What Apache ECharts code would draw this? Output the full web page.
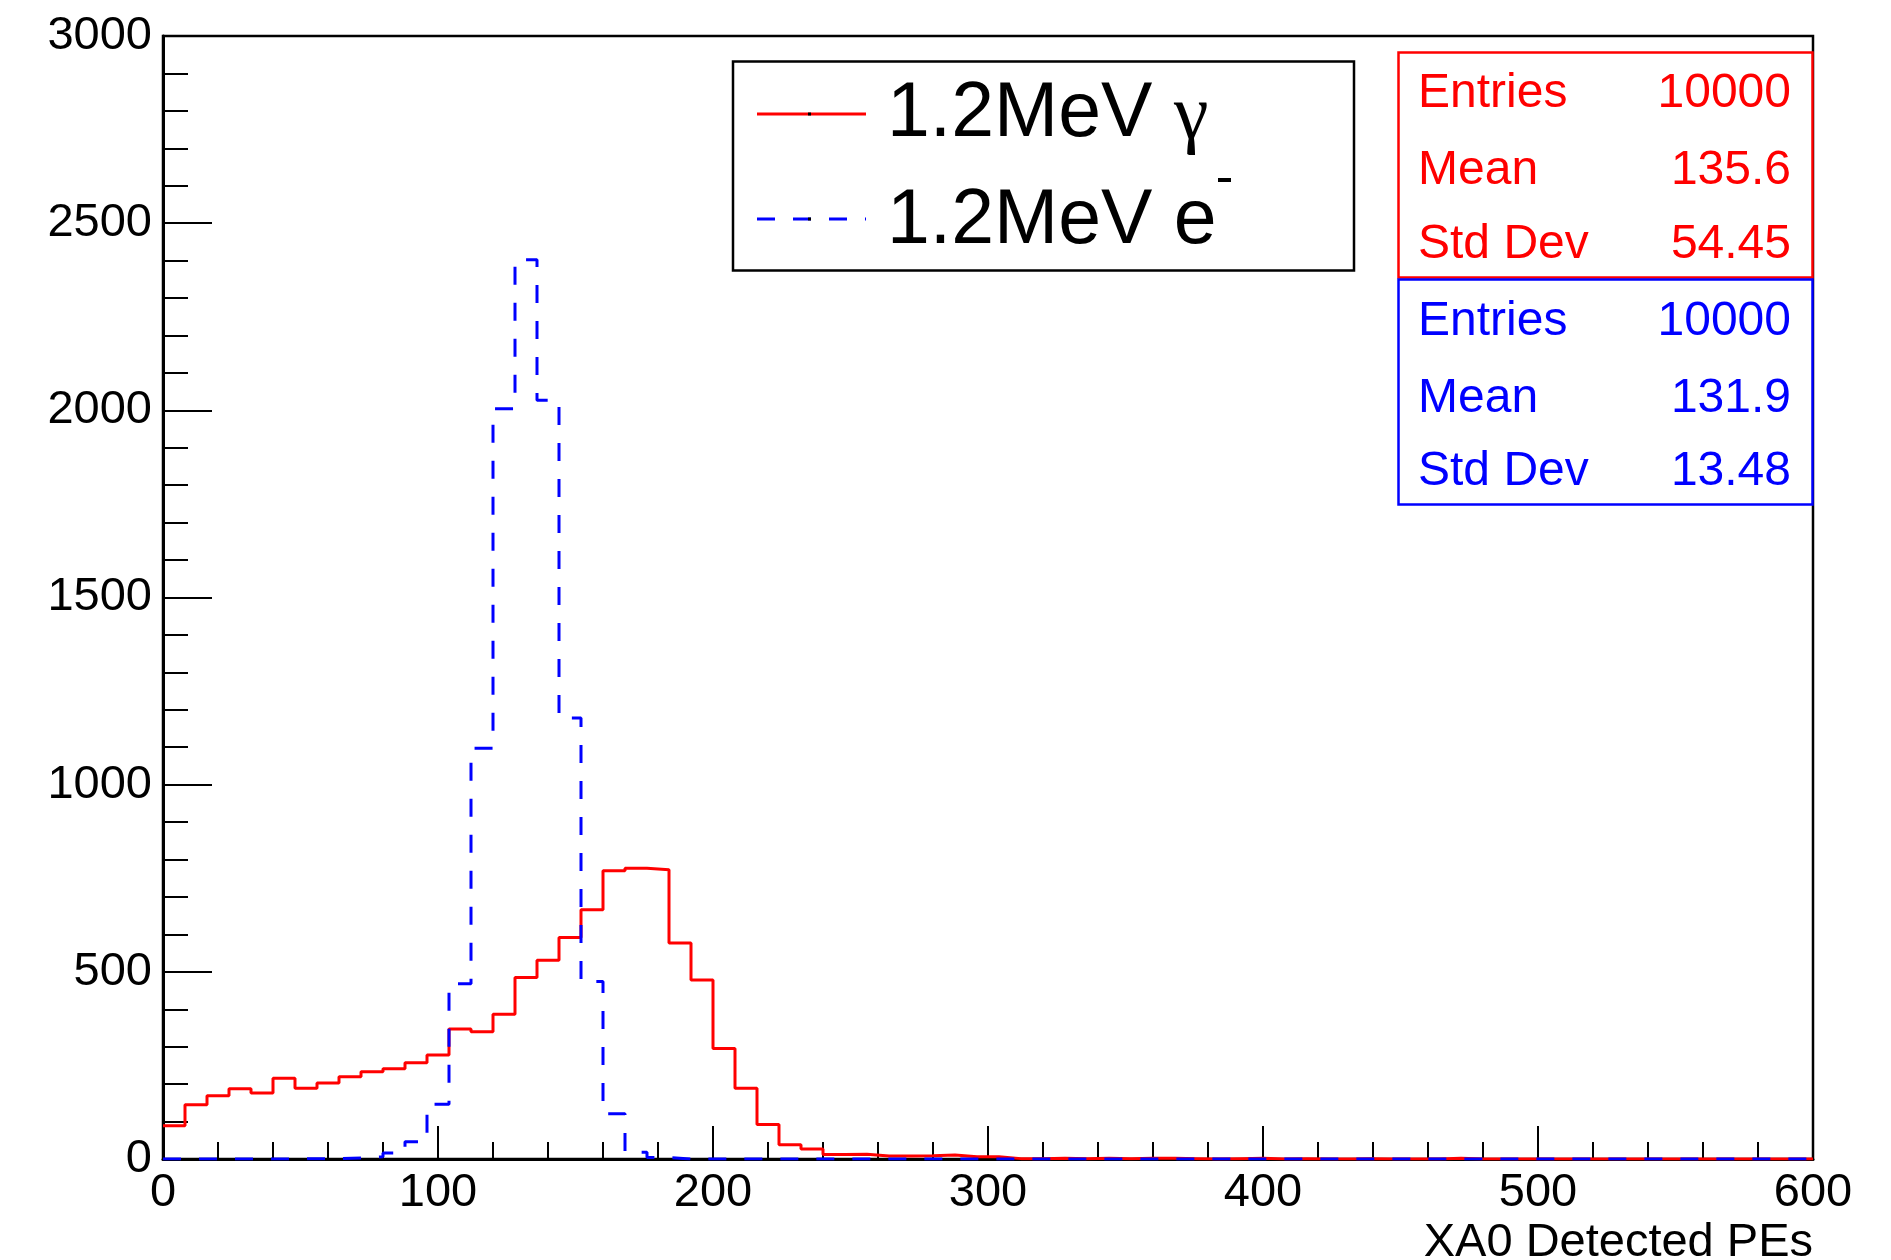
<!DOCTYPE html>
<html>
<head>
<meta charset="utf-8">
<script src="https://cdn.jsdelivr.net/npm/echarts@6/dist/echarts.min.js"></script>
<style>
  html, body { margin: 0; padding: 0; background: #fff; }
  #chart { width: 1891px; height: 1260px; }
</style>
</head>
<body>
<div id="chart"></div>
<script>
// ---- data (bin lower edges, width 8 PEs) ----
const binEdges = [0,8,16,24,32,40,48,56,64,72,80,88,96,104,112,120,128,136,144,152,
  160,168,176,184,192,200,208,216,224,232,240,248,256,264,272,280,288,296,304,312,
  320,328,336,344,352,360,368,376,384,392,400,408,416,424,432,440,448,456,464,472,
  480,488,496,504,512,520,528,536,544,552,560,568,576,584,592];
const xRange = [0, 600];

const gammaCounts = [89,145,169,188,176,216,189,203,220,233,241,257,278,347,340,387,485,531,592,666,
  770,777,773,577,478,295,189,92,38,27,12,13,8,8,9,11,6,6,1,1,
  2,1,2,1,2,2,1,0,1,2,0,1,0,0,1,0,0,0,2,0,
  0,0,0,0,0,0,0,0,0,0,0,0,0,0,0];
const electronCounts = [0,0,0,0,0,0,1,1,3,6,16,46,146,468,1097,2004,2402,2027,1178,474,
  121,18,4,0,0,0,0,0,0,0,0,0,0,0,0,0,0,0,0,0,
  0,0,0,0,0,0,0,0,0,0,0,0,0,0,0,0,0,0,0,0,
  0,0,0,0,0,0,0,0,0,0,0,0,0,0,0];

const seriesNames = ['1.2MeV γ', '1.2MeV e-'];
const xTicks = [0,100,200,300,400,500,600];
const yTicks = [0,500,1000,1500,2000,2500,3000];
const xTitle = 'XA0 Detected PEs';
const statsGamma = [['Entries','10000'],['Mean','135.6'],['Std Dev','54.45']];
const statsElectron = [['Entries','10000'],['Mean','131.9'],['Std Dev','13.48']];

// ---- build ----
function histData(edges, counts) {
  const d = edges.map((e, i) => [e, counts[i]]);
  d.push([xRange[1], counts[counts.length - 1]]);
  return d;
}

const FONT = '"Liberation Sans", Arial, Helvetica, sans-serif';
const SERIF = '"Liberation Serif", "DejaVu Serif", serif';
const RED = '#ff0000', BLUE = '#0000ff';

const G = { left: 163, right: 78, top: 36, bottom: 101 };

const graphics = [];
// legend box
graphics.push({ type: 'rect', shape: { x: 733, y: 61.5, width: 621, height: 209 },
  style: { fill: '#fff', stroke: '#000', lineWidth: 2.5 }, z: 10 });
graphics.push({ type: 'line', shape: { x1: 757, y1: 114, x2: 866, y2: 114 },
  style: { stroke: RED, lineWidth: 3 }, z: 11 });
graphics.push({ type: 'line', shape: { x1: 757, y1: 219, x2: 866, y2: 219 },
  style: { stroke: BLUE, lineWidth: 3, lineDash: [18, 18] }, z: 11 });
graphics.push({ type: 'rect', shape: { x: 808, y: 112.5, width: 3, height: 3 }, style: { fill: '#000' }, z: 12 });
graphics.push({ type: 'rect', shape: { x: 808, y: 217.5, width: 3, height: 3 }, style: { fill: '#000' }, z: 12 });
graphics.push({ type: 'text', x: 887, y: 115, z: 11,
  style: { text: '1.2MeV', font: '77px ' + FONT, fill: '#000', textAlign: 'left', textVerticalAlign: 'middle' } });
graphics.push({ type: 'text', x: 1174, y: 118, z: 11,
  style: { text: 'γ', font: '78px ' + SERIF, fill: '#000', textAlign: 'left', textVerticalAlign: 'middle' } });
graphics.push({ type: 'text', x: 887, y: 222, z: 11,
  style: { text: '1.2MeV e', font: '77px ' + FONT, fill: '#000', textAlign: 'left', textVerticalAlign: 'middle' } });
graphics.push({ type: 'rect', shape: { x: 1218, y: 178, width: 13, height: 4 }, style: { fill: '#000' }, z: 11 });

// x axis title
graphics.push({ type: 'text', x: 1813, y: 1243, z: 11,
  style: { text: xTitle, font: '47px ' + FONT, fill: '#000', textAlign: 'right', textVerticalAlign: 'middle' } });

// stats boxes
function statBox(y0, h, color, rows, rowY) {
  graphics.push({ type: 'rect', shape: { x: 1398.5, y: y0, width: 414, height: h },
    style: { fill: '#fff', stroke: color, lineWidth: 2.5 }, z: 10 });
  rows.forEach((r, i) => {
    graphics.push({ type: 'text', x: 1418, y: rowY[i], z: 11,
      style: { text: r[0], font: '48px ' + FONT, fill: color, textAlign: 'left', textVerticalAlign: 'middle' } });
    graphics.push({ type: 'text', x: 1791, y: rowY[i], z: 11,
      style: { text: r[1], font: '48px ' + FONT, fill: color, textAlign: 'right', textVerticalAlign: 'middle' } });
  });
}
statBox(52.5, 225, RED, statsGamma, [94, 171, 245]);
statBox(279.5, 225, BLUE, statsElectron, [322, 399, 472]);

const plain = v => String(v);

const chart = echarts.init(document.getElementById('chart'), null, { renderer: 'canvas' });
chart.setOption({
  animation: false,
  backgroundColor: '#fff',
  grid: { left: G.left, right: G.right, top: G.top, bottom: G.bottom, show: true,
    containLabel: false, outerBoundsMode: 'none',
    borderColor: '#000', borderWidth: 2.5, backgroundColor: 'transparent' },
  xAxis: {
    type: 'value', min: xTicks[0], max: xTicks[xTicks.length - 1], interval: xTicks[1] - xTicks[0],
    axisLine: { show: true, onZero: false, lineStyle: { color: '#000', width: 3 } },
    axisTick: { show: true, inside: true, length: 33, lineStyle: { color: '#000', width: 2 } },
    minorTick: { show: true, splitNumber: 5, length: 17, lineStyle: { color: '#000', width: 2 } },
    axisLabel: { fontFamily: FONT, fontSize: 47, color: '#000', margin: 34, verticalAlign: 'middle',
      lineHeight: 47, formatter: plain },
    splitLine: { show: false }, minorSplitLine: { show: false }
  },
  yAxis: {
    type: 'value', min: yTicks[0], max: yTicks[yTicks.length - 1], interval: yTicks[1] - yTicks[0],
    axisLine: { show: true, onZero: false, lineStyle: { color: '#000', width: 3 } },
    axisTick: { show: true, inside: true, length: 49, lineStyle: { color: '#000', width: 2 } },
    minorTick: { show: true, splitNumber: 5, length: 25, lineStyle: { color: '#000', width: 2 } },
    axisLabel: { fontFamily: FONT, fontSize: 47, color: '#000', margin: 11, formatter: plain },
    splitLine: { show: false }, minorSplitLine: { show: false }
  },
  series: [
    { name: seriesNames[0], type: 'line', step: 'end', symbol: 'none', z: 3,
      data: histData(binEdges, gammaCounts),
      lineStyle: { color: RED, width: 3 } },
    { name: seriesNames[1], type: 'line', step: 'end', symbol: 'none', z: 4,
      data: histData(binEdges, electronCounts),
      lineStyle: { color: BLUE, width: 3, type: [18, 18] } }
  ],
  graphic: graphics
});
</script>
</body>
</html>
